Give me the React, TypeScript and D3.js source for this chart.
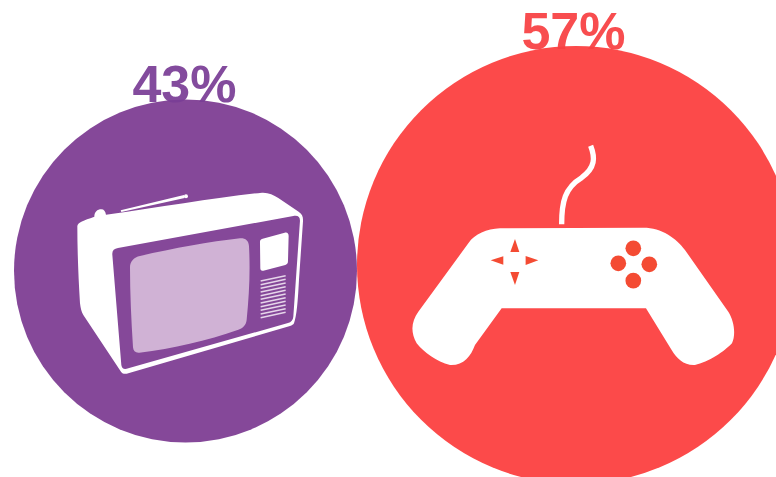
import React from "react";
import * as d3 from "d3";

// Share of viewers by pastime
const categories = ["tv", "games"];
const shares = [43, 57];
const shareLabels = ["43%", "57%"];
const fills = ["#854899", "#fc4a4a"];
const labelFills = ["#7a3d96", "#f83f42"];

const WIDTH = 776;
const HEIGHT = 477;

// Bubble radius and position follow the share
const radius = d3.scaleLinear().domain([43, 57]).range([171.5, 219]);
const centerX = d3.scaleLinear().domain([43, 57]).range([185.5, 576]);
const centerY = d3.scaleLinear().domain([43, 57]).range([271, 265]);
const labelY = d3.scaleLinear().domain([43, 57]).range([102, 49]);
const labelX = d3.scaleLinear().domain([43, 57]).range([184.5, 573.5]);

// Icon glyphs, drawn on a 3x grid and scaled down
const TV_BODY =
  "M52,138 C54,126 70,122 103,110 C103,96 112,88 124,88 C132,88 136,94 138,104 C300,82 470,52 606,38 C625,37 640,44 655,54 L716,95 C727,103 730,110 729,125 L717,300 C714,360 710,410 702,430 C700,434 696,436 690,438 L205,580 C195,583 188,582 183,575 L70,405 C64,395 62,385 60,370 C55,290 52,210 52,138 Z";
const TV_FRONT =
  "M174,204 L700,108 C714,106 720,110 720,122 L700,410 C699,420 694,426 684,429 L205,565 C192,569 186,566 184,555 L157,224 C156,212 162,206 174,204 Z";
const TV_SCREEN =
  "M240,228 C340,205 450,185 540,175 C556,174 566,182 567,198 C571,270 568,340 560,420 C558,435 550,444 535,449 C440,482 340,505 238,518 C226,519 220,513 219,502 C214,420 210,340 210,262 C210,244 222,232 240,228 Z";
const TV_PANEL =
  "M608,176 L674,158 C682,156 686,160 686,168 L684,244 C684,250 682,253 676,255 L610,272 C604,273 601,271 601,265 L600,186 C600,180 602,178 608,176 Z";
const TV_ANTENNA = "M182,91 L372,45 L374,54 L184,96 Z";
const PAD_BODY =
  "M300,280 L730,278 C785,278 830,310 855,345 L985,530 C1003,558 1008,600 996,625 C975,648 925,682 885,690 C852,692 830,670 815,645 L738,520 L305,520 L225,630 C212,665 190,692 150,690 C110,680 72,652 50,625 C30,590 35,558 55,530 L205,325 C225,296 260,282 300,280 Z";
const PAD_CABLE = "M572,32 C586,68 586,98 545,128 C495,158 485,200 485,268";
const PAD_ARROWS = [
  "M345,312 L331,351 L358,351 Z",
  "M272,376 L310,364 L310,389 Z",
  "M415,376 L377,363 L377,390 Z",
  "M345,450 L331,411 L358,411 Z",
];
const PAD_BUTTONS = [
  [700, 340],
  [655, 385],
  [748, 388],
  [700, 437],
];
// Speaker grille slats: left and right heights on the icon grid
const GRILLE_LEFT = [303, 314, 325, 336, 347, 358, 369, 380, 391, 402, 413];
const GRILLE_RIGHT = [287, 298, 309, 320, 331, 342, 353, 364, 375, 386, 397];

export default function App() {
  return (
    <svg
      width={WIDTH}
      height={HEIGHT}
      viewBox={`0 0 ${WIDTH} ${HEIGHT}`}
      style={{ position: "absolute", left: 0, top: 0, background: "#fff" }}
    >
      {categories.map((c, i) => (
        <circle
          key={c}
          cx={centerX(shares[i])}
          cy={centerY(shares[i])}
          r={radius(shares[i])}
          fill={fills[i]}
        />
      ))}

      {/* Television */}
      <g transform="translate(60,180) scale(0.3333)">
        <path d={TV_BODY} fill="#fff" />
        <path d={TV_FRONT} fill={fills[0]} />
        <path d={TV_SCREEN} fill="#d0b2d5" />
        <path d={TV_PANEL} fill="#fff" />
        <path d={TV_ANTENNA} fill="#fff" />
        <circle cx={378} cy={49} r={6} fill="#fff" />
        {GRILLE_LEFT.map((y, k) => (
          <line key={k} x1={602} y1={y} x2={677} y2={GRILLE_RIGHT[k]} stroke="#e6d6ea" strokeWidth={4.5} />
        ))}
      </g>

      {/* Game controller */}
      <g transform="translate(400,135) scale(0.3333)">
        <path d={PAD_CABLE} stroke="#fff" strokeWidth={16} fill="none" />
        <path d={PAD_BODY} fill="#fff" />
        {PAD_ARROWS.map((d, k) => (
          <path key={k} d={d} fill="#f44b33" />
        ))}
        {PAD_BUTTONS.map(([x, y], k) => (
          <circle key={k} cx={x} cy={y} r={23.5} fill="#f44b33" />
        ))}
      </g>

      {categories.map((c, i) => (
        <text
          key={c}
          x={labelX(shares[i])}
          y={labelY(shares[i])}
          textAnchor="middle"
          fontFamily="'Liberation Sans', sans-serif"
          fontWeight={700}
          fontSize={52}
          fill={labelFills[i]}
          fillOpacity={0.93}
        >
          {shareLabels[i]}
        </text>
      ))}
    </svg>
  );
}
